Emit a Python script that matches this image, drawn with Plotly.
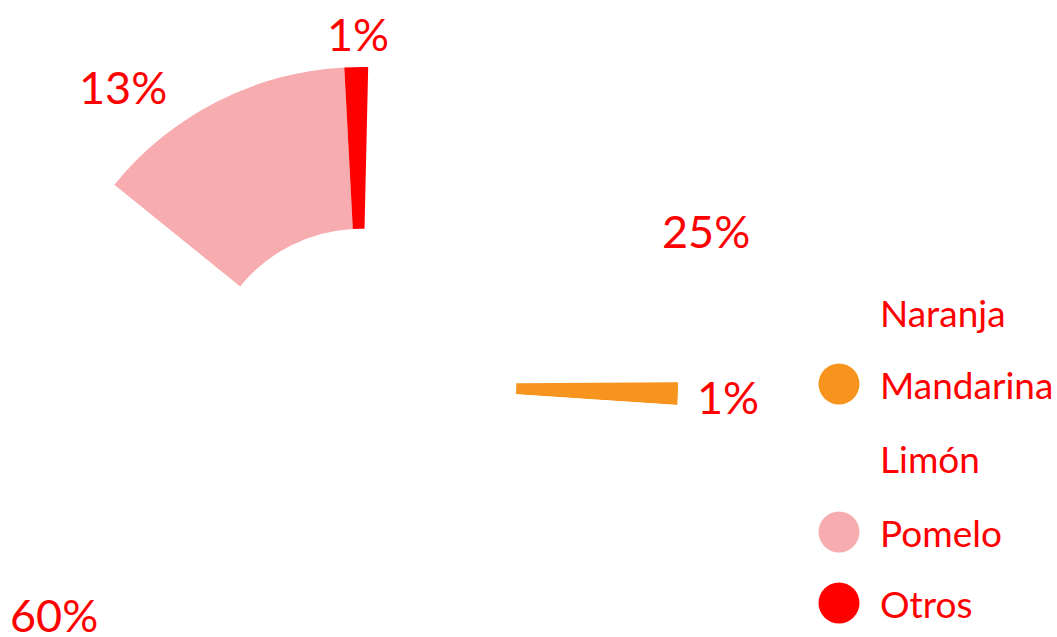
import plotly.graph_objects as go

# ---- data ----
labels = ["Naranja", "Mandarina", "Limón", "Pomelo", "Otros"]
values = [24.55, 1.15, 59.75, 13.35, 1.2]
colors = ["#FFFFFF", "#F7941D", "#FFFFFF", "#F7ADAF", "#FF0000"]

# ---- layout helpers (pixel -> paper) ----
W, H = 1057, 720
def px(x):
    return x / W
def py(y):
    return 1 - y / H

TEXT_RED = "#FF0000"
FONT = "Lato"

total = sum(values)
pct_text = [f"{round(v / total * 100):.0f}%" for v in values]

# label placement (pixels) for each slice's percentage
label_pos = [(706, 231), (728, 397), (54, 615), (123, 87), (358, 34)]
# legend rows (pixels)
legend_y = [312, 384, 458, 532, 603]
legend_marker_x = 839
legend_text_x = 878
marker_r = 20.5

fig = go.Figure(
    go.Pie(
        labels=labels,
        values=values,
        marker=dict(colors=colors, line=dict(width=0)),
        hole=0.49,
        sort=False,
        direction="clockwise",
        rotation=1.3,
        textinfo="none",
        hoverinfo="label+percent",
        showlegend=False,
        domain=dict(x=[px(44), px(678)], y=[py(701), py(67)]),
    )
)

annotations = []
for txt, (x, y) in zip(pct_text, label_pos):
    annotations.append(dict(
        text=txt, x=px(x), y=py(y), xref="paper", yref="paper",
        xanchor="center", yanchor="middle", showarrow=False,
        font=dict(family=FONT, size=45, color=TEXT_RED),
    ))

shapes = []
for lab, col, y in zip(labels, colors, legend_y):
    shapes.append(dict(
        type="circle", xref="paper", yref="paper",
        x0=px(legend_marker_x - marker_r), x1=px(legend_marker_x + marker_r),
        y0=py(y + marker_r), y1=py(y - marker_r),
        fillcolor=col, line=dict(width=0),
    ))
    annotations.append(dict(
        text=lab, x=px(legend_text_x), y=py(y), xref="paper", yref="paper",
        xanchor="left", yanchor="middle", showarrow=False,
        font=dict(family=FONT, size=37, color=TEXT_RED),
    ))

fig.update_layout(
    width=W, height=H,
    margin=dict(l=0, r=0, t=0, b=0),
    paper_bgcolor="white", plot_bgcolor="white",
    showlegend=False,
    annotations=annotations,
    shapes=shapes,
)

fig.write_html(
    "out.html",
    config={"displayModeBar": False},
    post_script=(
        "document.body.style.margin='0';"
        "document.documentElement.style.overflow='hidden';"
        "document.body.style.overflow='hidden';"
    ),
)
